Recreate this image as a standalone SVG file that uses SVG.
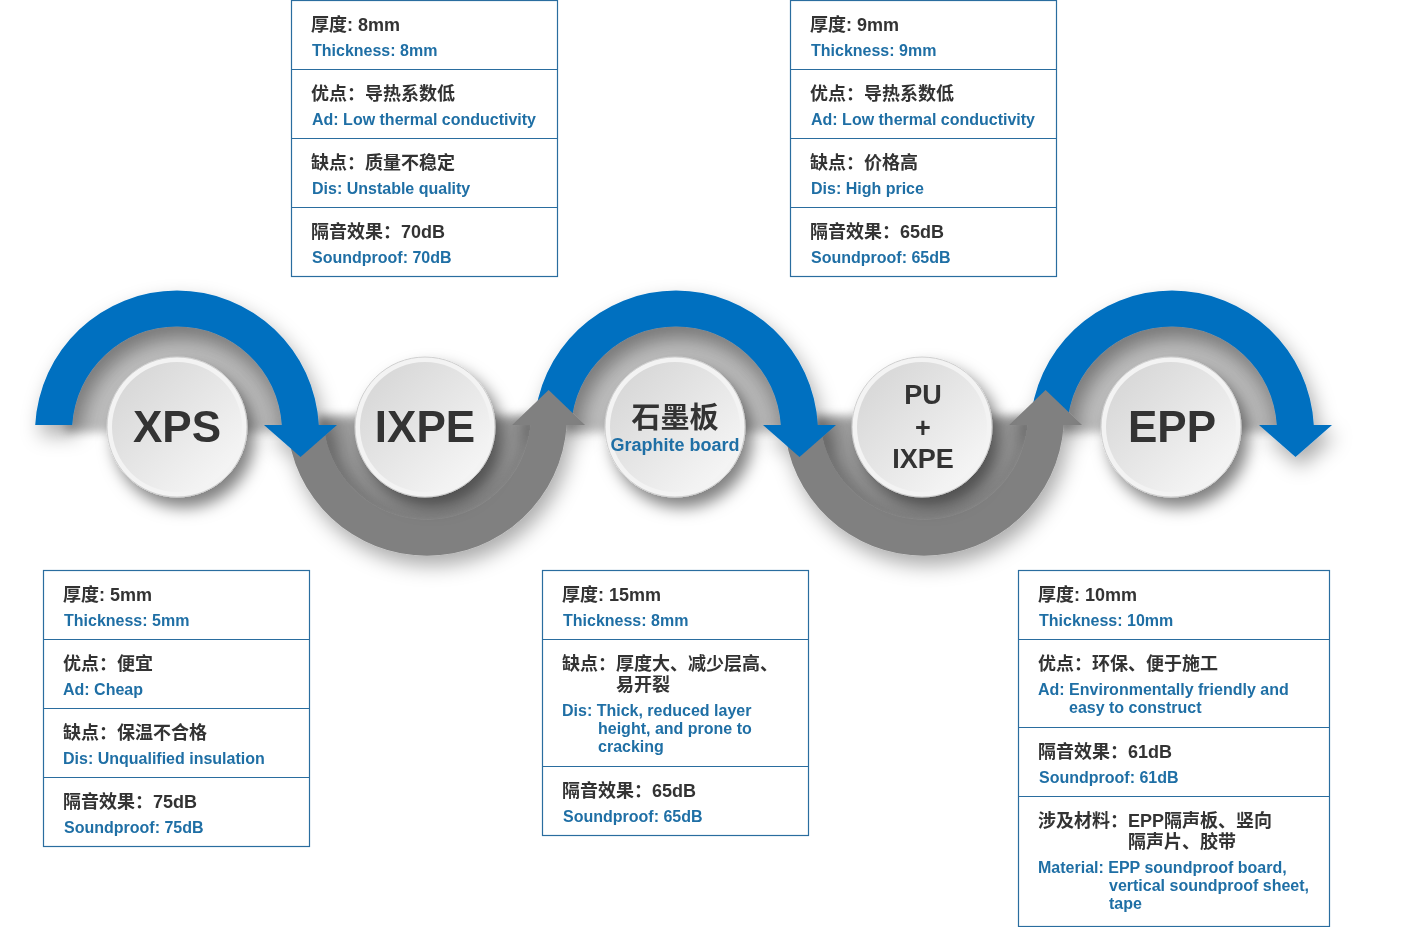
<svg xmlns="http://www.w3.org/2000/svg" xmlns:xlink="http://www.w3.org/1999/xlink" width="1425" height="927" viewBox="0 0 1425 927">
<style>
.box{fill:#fff;stroke:#2a6d9f;stroke-width:1.2}
.sep{stroke:#2a6d9f;stroke-width:1.2}
.zh{font-family:"Liberation Sans","Noto Sans CJK SC",sans-serif;font-weight:bold;font-size:18px;fill:#333}
.en{font-family:"Liberation Sans","Noto Sans CJK SC",sans-serif;font-weight:bold;font-size:16px;fill:#1f6fa5}
.big{font-family:"Liberation Sans","Noto Sans CJK SC",sans-serif;font-weight:bold;font-size:44px;fill:#333;text-anchor:middle}
.mid{font-family:"Liberation Sans","Noto Sans CJK SC",sans-serif;font-weight:bold;font-size:27px;fill:#333;text-anchor:middle}
.blue{fill:#0070c0}
.gray{fill:#808080}
</style>
<defs>
<filter id="sh" x="-30%" y="-30%" width="160%" height="160%">
<feDropShadow dx="5" dy="10" stdDeviation="10" flood-color="#000" flood-opacity="0.33"/>
</filter>
<filter id="csh" x="-40%" y="-40%" width="180%" height="180%">
<feDropShadow dx="7" dy="10" stdDeviation="8" flood-color="#000" flood-opacity="0.5"/>
</filter>
<filter id="soft" x="-20%" y="-40%" width="140%" height="180%">
<feGaussianBlur stdDeviation="5"/>
</filter>
<radialGradient id="wbg" gradientUnits="userSpaceOnUse" cx="0" cy="0" r="112">
<stop offset="0.55" stop-color="#c6c6c6"/>
<stop offset="1" stop-color="#aaaaaa"/>
</radialGradient>
<radialGradient id="wgg" gradientUnits="userSpaceOnUse" cx="0" cy="0" r="110">
<stop offset="0.55" stop-color="#b4b4b4"/>
<stop offset="1" stop-color="#7c7c7c"/>
</radialGradient>
<linearGradient id="cg" x1="0" y1="0" x2="1" y2="1">
<stop offset="0" stop-color="#d3d3d3"/>
<stop offset="1" stop-color="#fafafa"/>
</linearGradient>
<path id="wellTop" d="M-112,0 A112,112 0 0 1 112,0 Z" fill="url(#wbg)" filter="url(#soft)"/>
<path id="wellBot" d="M-110,0 A110,110 0 0 0 110,0 Z" fill="url(#wgg)" filter="url(#soft)"/>
<path id="arcTop" d="M-141.8,-7 A142,142 0 0 1 141.8,-7 L104.8,-7 A105,105 0 0 0 -104.8,-7 Z"/>
<path id="arcBot" d="M-139.7,9 A140,140 0 0 0 139.7,9 L103.6,9 A104,104 0 0 1 -103.6,9 Z"/>
<polygon id="headDown" points="-36.5,0 36.5,0 0,32"/>
<polygon id="headUp" points="-36.5,0 36.5,0 0,-35"/>
<g id="disc">
<circle r="70" fill="#f3f3f3" stroke="#cfcfcf" stroke-width="1"/>
<circle r="65" fill="url(#cg)"/>
</g>
</defs>
<rect width="1425" height="927" fill="#fff"/>
<g id="wells">
<use href="#wellTop" x="177" y="432"/>
<use href="#wellTop" x="676" y="432"/>
<use href="#wellTop" x="1172" y="432"/>
<use href="#wellBot" x="427" y="416"/>
<use href="#wellBot" x="924" y="416"/>
</g>
<g id="connectors" filter="url(#sh)">
<use href="#arcBot" class="gray" x="427" y="416"/>
<use href="#arcBot" class="gray" x="924" y="416"/>
<use href="#arcTop" class="blue" x="177" y="432"/>
<use href="#arcTop" class="blue" x="676" y="432"/>
<use href="#arcTop" class="blue" x="1172" y="432"/>
<use href="#headUp" class="gray" x="548.6" y="425"/>
<use href="#headUp" class="gray" x="1045.6" y="425"/>
<use href="#headDown" class="blue" x="300.5" y="425"/>
<use href="#headDown" class="blue" x="799.5" y="425"/>
<use href="#headDown" class="blue" x="1295.5" y="425"/>
</g>
<g id="node-xps">
<use href="#disc" x="177" y="427" filter="url(#csh)"/>
<text class="big" x="177" y="442">XPS</text>
</g>
<g id="node-ixpe">
<use href="#disc" x="425" y="427" filter="url(#csh)"/>
<text class="big" x="425" y="442">IXPE</text>
</g>
<g id="node-graphite">
<use href="#disc" x="675" y="427" filter="url(#csh)"/>
<text x="675" y="428" text-anchor="middle" style="font-family:'Liberation Sans','Noto Sans CJK SC',sans-serif;font-weight:bold;font-size:29px;fill:#333">石墨板</text>
<text x="675" y="451" text-anchor="middle" style="font-family:'Liberation Sans','Noto Sans CJK SC',sans-serif;font-weight:bold;font-size:18px;fill:#1f6fa5">Graphite board</text>
</g>
<g id="node-pu-ixpe">
<use href="#disc" x="922" y="427" filter="url(#csh)"/>
<text class="mid" x="923" y="404">PU</text>
<text class="mid" x="923" y="437">+</text>
<text class="mid" x="923" y="468">IXPE</text>
</g>
<g id="node-epp">
<use href="#disc" x="1171" y="427" filter="url(#csh)"/>
<text class="big" x="1172" y="442">EPP</text>
</g>
<g id="box-ixpe">
<rect class="box" x="291.5" y="0.5" width="266" height="276"/>
<line class="sep" x1="291.5" y1="69.5" x2="557.5" y2="69.5"/>
<line class="sep" x1="291.5" y1="138.5" x2="557.5" y2="138.5"/>
<line class="sep" x1="291.5" y1="207.5" x2="557.5" y2="207.5"/>
<text class="zh" x="311" y="31">厚度: 8mm</text>
<text class="en" x="312" y="56">Thickness: 8mm</text>
<text class="zh" x="311" y="100">优点：导热系数低</text>
<text class="en" x="312" y="125">Ad: Low thermal conductivity</text>
<text class="zh" x="311" y="169">缺点：质量不稳定</text>
<text class="en" x="312" y="194">Dis: Unstable quality</text>
<text class="zh" x="311" y="238">隔音效果：70dB</text>
<text class="en" x="312" y="263">Soundproof: 70dB</text>
</g>
<g id="box-pu-ixpe">
<rect class="box" x="790.5" y="0.5" width="266" height="276"/>
<line class="sep" x1="790.5" y1="69.5" x2="1056.5" y2="69.5"/>
<line class="sep" x1="790.5" y1="138.5" x2="1056.5" y2="138.5"/>
<line class="sep" x1="790.5" y1="207.5" x2="1056.5" y2="207.5"/>
<text class="zh" x="810" y="31">厚度: 9mm</text>
<text class="en" x="811" y="56">Thickness: 9mm</text>
<text class="zh" x="810" y="100">优点：导热系数低</text>
<text class="en" x="811" y="125">Ad: Low thermal conductivity</text>
<text class="zh" x="810" y="169">缺点：价格高</text>
<text class="en" x="811" y="194">Dis: High price</text>
<text class="zh" x="810" y="238">隔音效果：65dB</text>
<text class="en" x="811" y="263">Soundproof: 65dB</text>
</g>
<g id="box-xps">
<rect class="box" x="43.5" y="570.5" width="266" height="276"/>
<line class="sep" x1="43.5" y1="639.5" x2="309.5" y2="639.5"/>
<line class="sep" x1="43.5" y1="708.5" x2="309.5" y2="708.5"/>
<line class="sep" x1="43.5" y1="777.5" x2="309.5" y2="777.5"/>
<text class="zh" x="63" y="601">厚度: 5mm</text>
<text class="en" x="64" y="626">Thickness: 5mm</text>
<text class="zh" x="63" y="670">优点：便宜</text>
<text class="en" x="63" y="695">Ad: Cheap</text>
<text class="zh" x="63" y="739">缺点：保温不合格</text>
<text class="en" x="63" y="764">Dis: Unqualified insulation</text>
<text class="zh" x="63" y="808">隔音效果：75dB</text>
<text class="en" x="64" y="833">Soundproof: 75dB</text>
</g>
<g id="box-graphite">
<rect class="box" x="542.5" y="570.5" width="266" height="265"/>
<line class="sep" x1="542.5" y1="639.5" x2="808.5" y2="639.5"/>
<line class="sep" x1="542.5" y1="766.5" x2="808.5" y2="766.5"/>
<text class="zh" x="562" y="601">厚度: 15mm</text>
<text class="en" x="563" y="626">Thickness: 8mm</text>
<text class="zh" x="562" y="670">缺点：厚度大、减少层高、</text>
<text class="zh" x="616" y="691">易开裂</text>
<text class="en" x="562" y="716">Dis: Thick, reduced layer</text>
<text class="en" x="598" y="734">height, and prone to</text>
<text class="en" x="598" y="752">cracking</text>
<text class="zh" x="562" y="797">隔音效果：65dB</text>
<text class="en" x="563" y="822">Soundproof: 65dB</text>
</g>
<g id="box-epp">
<rect class="box" x="1018.5" y="570.5" width="311" height="356"/>
<line class="sep" x1="1018.5" y1="639.5" x2="1329.5" y2="639.5"/>
<line class="sep" x1="1018.5" y1="727.5" x2="1329.5" y2="727.5"/>
<line class="sep" x1="1018.5" y1="796.5" x2="1329.5" y2="796.5"/>
<text class="zh" x="1038" y="601">厚度: 10mm</text>
<text class="en" x="1039" y="626">Thickness: 10mm</text>
<text class="zh" x="1038" y="670">优点：环保、便于施工</text>
<text class="en" x="1038" y="695">Ad: Environmentally friendly and</text>
<text class="en" x="1069" y="713">easy to construct</text>
<text class="zh" x="1038" y="758">隔音效果：61dB</text>
<text class="en" x="1039" y="783">Soundproof: 61dB</text>
<text class="zh" x="1038" y="827">涉及材料：EPP隔声板、竖向</text>
<text class="zh" x="1128" y="848">隔声片、胶带</text>
<text class="en" x="1038" y="873">Material: EPP soundproof board,</text>
<text class="en" x="1109" y="891">vertical soundproof sheet,</text>
<text class="en" x="1109" y="909">tape</text>
</g>
</svg>
